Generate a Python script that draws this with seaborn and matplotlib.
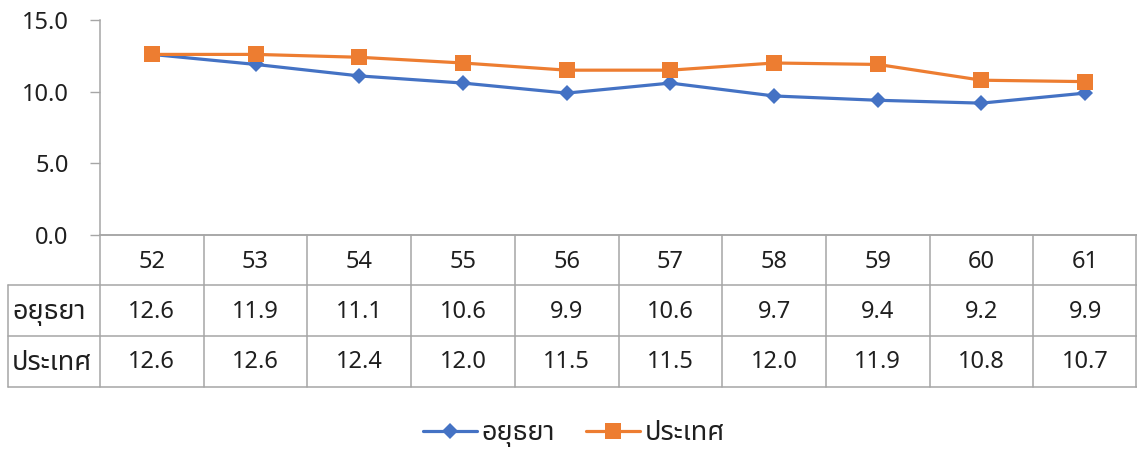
import matplotlib
matplotlib.use("Agg")
import matplotlib.pyplot as plt
from matplotlib import font_manager
from matplotlib.ft2font import FT2Font
from matplotlib.lines import Line2D
import seaborn as sns
import pandas as pd

# Data
years = ["52", "53", "54", "55", "56", "57", "58", "59", "60", "61"]
ayutthaya = [12.6, 11.9, 11.1, 10.6, 9.9, 10.6, 9.7, 9.4, 9.2, 9.9]
country = [12.6, 12.6, 12.4, 12.0, 11.5, 11.5, 12.0, 11.9, 10.8, 10.7]
series_names = ["อยุธยา", "ประเทศ"]
y_ticks = [0, 5, 10, 15]

BLUE = "#4472C4"
ORANGE = "#ED7D31"
GRID = "#A6A6A6"
TEXT = "#1F1F1F"


def thai_family():
    """Pick an installed family that has Thai glyphs."""
    preferred = ["Noto Sans Thai", "Noto Sans Thai UI", "Noto Sans Thai Looped",
                 "Sarabun", "Loma", "Garuda", "Kinnari", "Tlwg Typo", "Umpush",
                 "Leelawadee UI", "Tahoma", "FreeSans", "Noto Serif Thai"]
    found = {}
    for fe in font_manager.fontManager.ttflist:
        try:
            cmap = FT2Font(fe.fname).get_charmap()
        except Exception:
            continue
        if 0x0E2D in cmap and 0x0E22 in cmap:
            found.setdefault(fe.name, fe.fname)
    for p in preferred:
        if p in found:
            return p
    return next(iter(found), None)


sns.set_theme(style="white")
fam = thai_family()
families = ([fam] if fam else []) + ["DejaVu Sans"]
plt.rcParams["font.family"] = families

FS = 17          # numbers
FS_TH = 19.5     # Thai labels

W, H = 1137, 451
fig = plt.figure(figsize=(W / 100, H / 100), dpi=100)

left_px, right_px = 100, 1137
top_px, bottom_px = 20, 235
ax = fig.add_axes([left_px / W, 1 - bottom_px / H,
                   (right_px - left_px) / W, (bottom_px - top_px) / H])

df = pd.DataFrame({
    "year": years * 2,
    "value": ayutthaya + country,
    "series": [series_names[0]] * len(years) + [series_names[1]] * len(years),
})

LW = 2.3
MS_D, MS_S = 8.5, 11

sns.lineplot(data=df, x="year", y="value", hue="series", style="series",
             palette={series_names[0]: BLUE, series_names[1]: ORANGE},
             markers={series_names[0]: "D", series_names[1]: "s"},
             dashes=False, linewidth=LW, markersize=MS_D,
             markeredgewidth=0, sort=False, legend=False, ax=ax)
for ln in ax.get_lines():
    if ln.get_marker() == "s":
        ln.set_markersize(MS_S)

ax.set_xlim(-0.5, len(years) - 0.5)
ax.set_ylim(0, 15)
ax.set_yticks(y_ticks)
ax.set_yticklabels([f"{v:.1f}" for v in y_ticks], fontsize=FS, color=TEXT)
ax.set_xticks([])
ax.set_xlabel("")
ax.set_ylabel("")
ax.tick_params(axis="y", left=True, length=7.2, width=1, color=GRID, pad=15.5)
for s in ["top", "right"]:
    ax.spines[s].set_visible(False)
for s in ["left", "bottom"]:
    ax.spines[s].set_color(GRID)
    ax.spines[s].set_linewidth(1.1)

# Data table beneath the chart (figure pixel coordinates)
def fx(px):
    return px / W


def fy(py):
    return 1 - py / H


row_y = [235, 285, 336, 387]
col_w = (right_px - left_px) / len(years)
label_left = 8
lw = 1.1

lines = [Line2D([fx(left_px), fx(right_px)], [fy(row_y[0])] * 2)]
for yy in row_y[1:]:
    lines.append(Line2D([fx(label_left), fx(right_px)], [fy(yy)] * 2))
lines.append(Line2D([fx(label_left)] * 2, [fy(row_y[1]), fy(row_y[3])]))
for k in range(len(years) + 1):
    xx = left_px + k * col_w
    if k == len(years):
        xx -= 1
    lines.append(Line2D([fx(xx)] * 2, [fy(row_y[0]), fy(row_y[3])]))
for ln in lines:
    ln.set_color(GRID)
    ln.set_linewidth(lw)
    fig.add_artist(ln)

for i, yr in enumerate(years):
    cx = fx(left_px + (i + 0.5) * col_w)
    fig.text(cx, fy((row_y[0] + row_y[1]) / 2 + 2), yr, ha="center", va="center",
             fontsize=FS, color=TEXT)
    fig.text(cx, fy((row_y[1] + row_y[2]) / 2 + 1), f"{ayutthaya[i]:.1f}",
             ha="center", va="center", fontsize=FS, color=TEXT)
    fig.text(cx, fy((row_y[2] + row_y[3]) / 2 + 1), f"{country[i]:.1f}",
             ha="center", va="center", fontsize=FS, color=TEXT)

fig.text(fx(12), fy((row_y[1] + row_y[2]) / 2 + 1), series_names[0], ha="left",
         va="center", fontsize=FS_TH, color=TEXT)
fig.text(fx(12), fy((row_y[2] + row_y[3]) / 2 + 1), series_names[1], ha="left",
         va="center", fontsize=FS_TH, color=TEXT)

# Legend
handles = [
    Line2D([], [], color=BLUE, marker="D", markersize=MS_D, linewidth=LW,
           markeredgewidth=0),
    Line2D([], [], color=ORANGE, marker="s", markersize=MS_S, linewidth=LW,
           markeredgewidth=0),
]
fig.legend(handles, series_names, loc="center", bbox_to_anchor=(fx(574), fy(433)),
           ncol=2, frameon=False, fontsize=FS_TH, handlelength=2.0,
           handletextpad=0.15, columnspacing=1.15, labelcolor=TEXT,
           borderpad=0, borderaxespad=0)

fig.savefig("out.png", dpi=100, facecolor="white")
